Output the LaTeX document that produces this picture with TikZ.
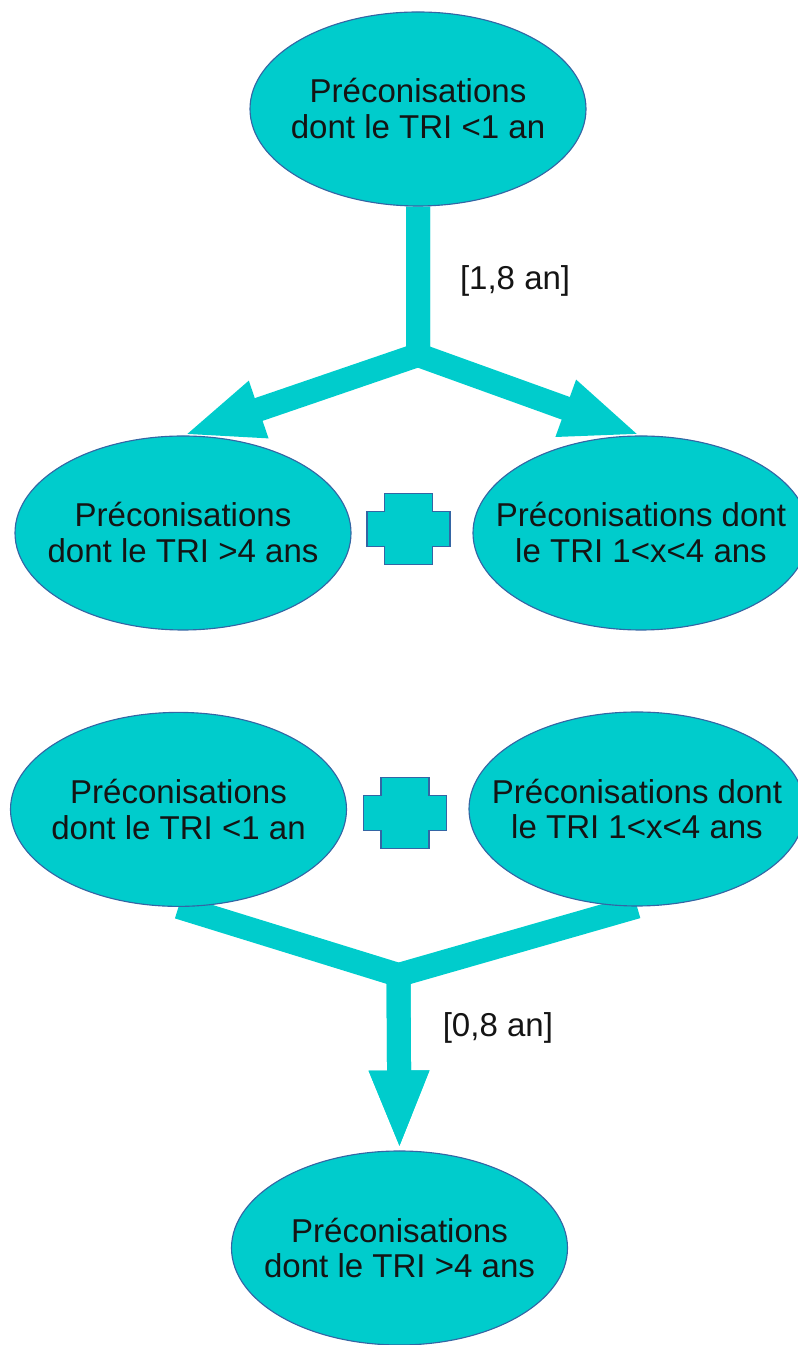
\documentclass[tikz,border=0pt]{standalone}
\usepackage{fontspec}
\setmainfont{Liberation Sans}
\usepackage{xcolor}
\usetikzlibrary{
    shapes.geometric,
    arrows.meta,
    positioning,
    backgrounds
}

\definecolor{turq}{RGB}{0,204,204}
\definecolor{rim}{RGB}{52,101,164}
\definecolor{ink}{RGB}{20,20,20}

\tikzset{
    pluspic/.pic={
        \draw[rim, fill=turq, line width=0.8pt]
            (-0.6,0.8875) -- (0.6,0.8875) -- (0.6,0.4375) -- (1.0375,0.4375)
            -- (1.0375,-0.4375) -- (0.6,-0.4375) -- (0.6,-0.8875) -- (-0.6,-0.8875)
            -- (-0.6,-0.4375) -- (-1.0375,-0.4375) -- (-1.0375,0.4375) -- (-0.6,0.4375) -- cycle;
    }
}

\begin{document}
\begin{tikzpicture}[
    reco/.style={ellipse, draw=rim, line width=0.8pt, fill=turq, minimum width=8.4cm, minimum height=4.85cm,
        inner xsep=-1.2cm, inner ysep=0pt, align=center, text=ink, font=\fontsize{23.5pt}{25.6pt}\selectfont},
    flow/.style={draw=turq, line width=0.6cm},
    bigarrow/.style={-{Triangle[length=2cm, width=1.35cm]}},
    delay/.style={inner sep=0pt, text=ink, font=\fontsize{23.5pt}{25.6pt}\selectfont}
]
                \useasboundingbox (0,0) rectangle (19.95,33.625);

                % Top recommendation
                \node[reco] (top) at (10.45, 30.9) {Préconisations\\dont le TRI <1 an};

                % Split row
                \node[reco] (gt4a) at (4.575, 20.3) {Préconisations\\dont le TRI >4 ans};
                \node[reco] (mid1) at (16.025, 20.3) {Préconisations dont\\le TRI 1<x<4 ans};
                \pic (plusA) at (10.2125, 20.39) {pluspic};

                % Merge row
                \node[reco] (lt1) at (4.4625, 13.39) {Préconisations\\dont le TRI <1 an};
                \node[reco] (mid2) at (15.925, 13.4) {Préconisations dont\\le TRI 1<x<4 ans};
                \pic (plusB) at (10.125, 13.3) {pluspic};

                % Bottom recommendation
                \node[reco] (gt4b) at (9.9875, 2.425) {Préconisations\\dont le TRI >4 ans};

                % Junctions
                \coordinate (split) at (10.45, 24.75);
                \coordinate (merge) at (9.9625, 9.25);

                % Arrows
                \begin{scope}[on background layer]
                    \draw[flow, bigarrow] (top.south) -- node[delay, midway, right=0.75cm] {[1,8 an]} (split) -- (gt4a.north);
                    \draw[flow, bigarrow] (top.south) -- (split) -- (mid1.north);
                    \draw[flow, bigarrow] (lt1.south) -- (merge) -- node[delay, pos=0.3, right=0.8cm] {[0,8 an]} (gt4b.north);
                    \draw[flow, bigarrow] (mid2.south) -- (merge) -- (gt4b.north);
                \end{scope}
            \end{tikzpicture}
\end{document}
